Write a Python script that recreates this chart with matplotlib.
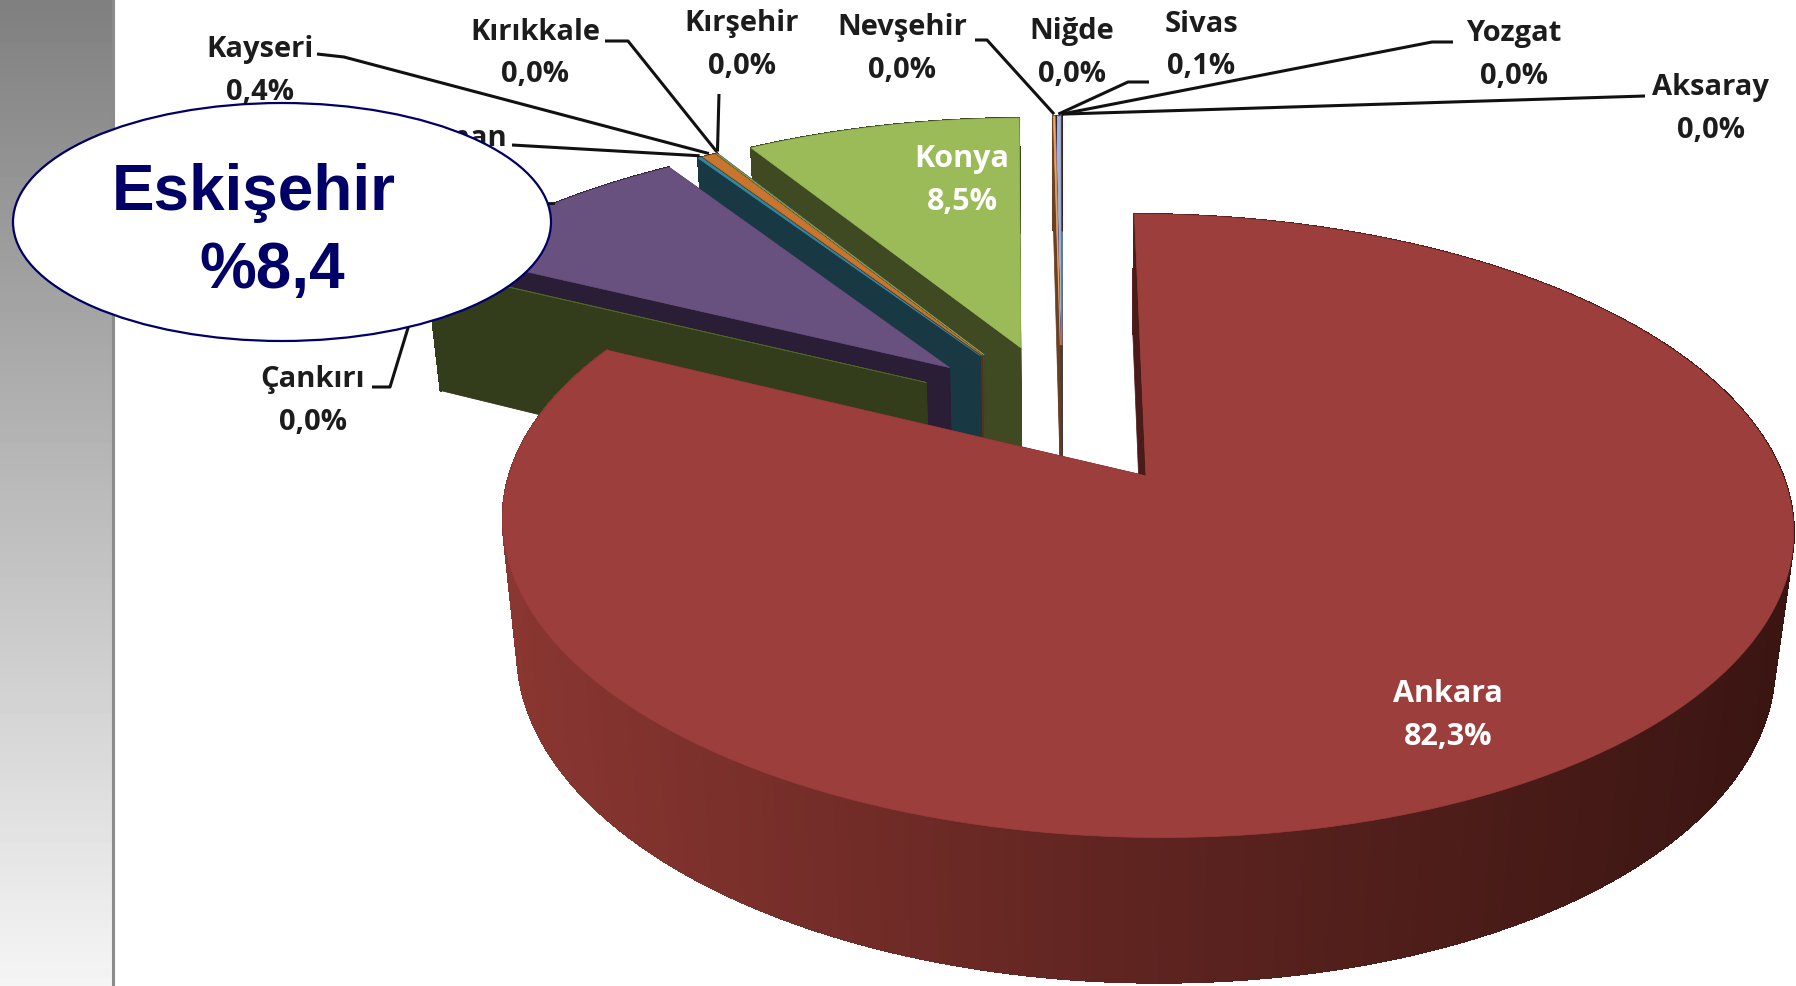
import numpy as np
import matplotlib
matplotlib.use("Agg")
import matplotlib.pyplot as plt
from matplotlib.patches import Polygon, Ellipse

# slices clockwise from 12 o'clock
cities = ["Ankara", "Çankırı", "Eskişehir", "Karaman", "Kayseri", "Kırıkkale", "Kırşehir",
          "Konya", "Nevşehir", "Niğde", "Sivas", "Yozgat", "Aksaray"]
shares = [82.3, 0.03, 8.4, 0.1, 0.4, 0.02, 0.02, 8.5, 0.049, 0.01, 0.14, 0.01, 0.01]
top_colors = ["#9b3e3c", "#4f6228", "#68507f", "#2e8aa3", "#c8752f", "#7f9a48", "#4f81bd",
              "#9bbb59", "#f0a45f", "#8064a2", "#9ab5d9", "#c0504d", "#4bacc6"]
wall_colors = ["#4a1b18", "#333d1b", "#2a1e36", "#183944", "#5a3214", "#3f4a22", "#24405f",
               "#3f4a22", "#6a4024", "#2a1e36", "#3c3f66", "#4a1b18", "#183944"]

# perspective model of the tilted pie, in pixels of the picture
CX, CY = 1062, 413.5
SX, SY, SZ = 616, 284, 132
PERSP = 0.155
PERSP_Z = 0.025
EXPLODE = 0.25


def project(x, y, z=0.0):
    w = 1 + PERSP * np.asarray(y, dtype=float) - PERSP_Z * z
    return CX + SX * np.asarray(x) / w, CY - (SY * np.asarray(y) + SZ * z) / w


def slice_points(a0, a1, n):
    # outer rim of a slice, moved out along its middle direction
    mid = np.radians((a0 + a1) / 2)
    ox, oy = EXPLODE * np.sin(mid), EXPLODE * np.cos(mid)
    t = np.radians(np.linspace(a0, a1, n))
    return ox, oy, ox + np.sin(t), oy + np.cos(t)


fig = plt.figure(figsize=(17.96, 9.86), dpi=100)
ax = fig.add_axes([0, 0, 1, 1])

# grey band on the left
band = np.linspace(0.5, 0.96, 256).reshape(-1, 1)
ax.imshow(band, extent=(0, 112, 986, 0), cmap="gray", vmin=0, vmax=1, aspect="auto", zorder=0)
ax.plot([113, 113], [0, 986], color="#8c8c8c", lw=2.2, zorder=1)

total = sum(shares)
edges = np.cumsum([0] + shares) / total * 360
tips = {}

# back slices first, Ankara last
for i in range(len(cities) - 1, -1, -1):
    a0, a1 = edges[i], edges[i + 1]
    n = max(3, int((a1 - a0) * 4))
    ox, oy, rx, ry = slice_points(a0, a1, n)
    px, py = project(rx, ry)
    qx, qy = project(rx, ry, -1)
    ax0, ay0 = project(ox, oy)
    bx0, by0 = project(ox, oy, -1)

    # rim
    for j in range(n - 1):
        if i == 0:
            f = np.clip((px[j] - 503) / (1790 - 503), 0, 1)
            c = np.interp(f, [0, 0.5, 1], [0.0, 0.55, 1.0])
            low = np.array([0x8a, 0x36, 0x31]) / 255
            high = np.array([0x3a, 0x15, 0x12]) / 255
            col = low + (high - low) * c
        else:
            col = wall_colors[i]
        quad = [(px[j], py[j]), (px[j + 1], py[j + 1]), (qx[j + 1], qy[j + 1]), (qx[j], qy[j])]
        ax.add_patch(Polygon(quad, fc=col, ec=col, lw=1.0, antialiased=False, zorder=2))

    # the two cut faces
    for k in (-1, 0):
        quad = [(ax0, ay0), (px[k], py[k]), (qx[k], qy[k]), (bx0, by0)]
        ax.add_patch(Polygon(quad, fc=wall_colors[i], ec=wall_colors[i], lw=0.5, zorder=2))

    top = np.column_stack([np.r_[ax0, px], np.r_[ay0, py]])
    ax.add_patch(Polygon(top, fc=top_colors[i], ec=top_colors[i], lw=0.5, zorder=2))

    mid_k = n // 2
    tips[cities[i]] = (px[mid_k], py[mid_k])

font = ["Open Sans", "DejaVu Sans"]
label_style = dict(family=font, fontsize=21, fontweight="bold", color="#1c1c1c",
                   ha="center", va="center", zorder=3)

label_names = ["Kayseri", "Kırıkkale", "Kırşehir", "Nevşehir", "Niğde", "Sivas", "Yozgat",
               "Aksaray", "Çankırı", "Karaman"]
name_x = [260, 535, 742, 902, 1072, 1201, 1514, 1711, 313, 441]
name_y = [50, 32, 23, 27, 32, 24, 34, 88, 380, 139]

for name, x, y in zip(label_names, name_x, name_y):
    val = shares[cities.index(name)]
    ax.text(x, y, name, **label_style)
    ax.text(x, y + 43, f"{val:.1f}".replace(".", ",") + "%", **label_style)

# white labels inside the big slices
for name, x, y in [("Konya", 962, 159), ("Ankara", 1448, 694)]:
    val = shares[cities.index(name)]
    ax.text(x, y, name, color="white", family=font, fontsize=22, fontweight="bold",
            ha="center", va="center", zorder=3)
    ax.text(x, y + 43, f"{val:.1f}".replace(".", ",") + "%", color="white", family=font,
            fontsize=22, fontweight="bold", ha="center", va="center", zorder=3)

# leader lines, label end first, slice tip last
leaders = {
    "Kayseri": [(317, 54), (344, 57)],
    "Kırıkkale": [(605, 41), (628, 41)],
    "Kırşehir": [(719, 94)],
    "Karaman": [(512, 145)],
    "Nevşehir": [(975, 40), (987, 40)],
    "Sivas": [(1149, 82), (1128, 82)],
    "Yozgat": [(1453, 42), (1432, 42)],
    "Aksaray": [(1645, 96)],
    "Çankırı": [(372, 387), (390, 387)],
}
for name, pts in leaders.items():
    tx, ty = tips[name]
    xs = [p[0] for p in pts] + [tx]
    ys = [p[1] for p in pts] + [ty - 2]
    ax.plot(xs, ys, color="#111111", lw=2.2, solid_capstyle="butt", zorder=3)
ax.plot([538, 553], [203, 203], color="#111111", lw=2, zorder=3)

# callout on top of everything
ax.add_patch(Ellipse((282, 222), 538, 238, fc="white", ec="#000066", lw=1.6, zorder=4))
ax.text(254, 210, "Eskişehir", family="Liberation Sans", fontweight="bold", fontsize=46,
        color="#000066", ha="center", va="baseline", zorder=5)
ax.text(272, 288, "%8,4", family="Liberation Sans", fontweight="bold", fontsize=46,
        color="#000066", ha="center", va="baseline", zorder=5)

ax.set_xlim(0, 1796)
ax.set_ylim(986, 0)
ax.axis("off")
fig.savefig("out.png", dpi=100)
